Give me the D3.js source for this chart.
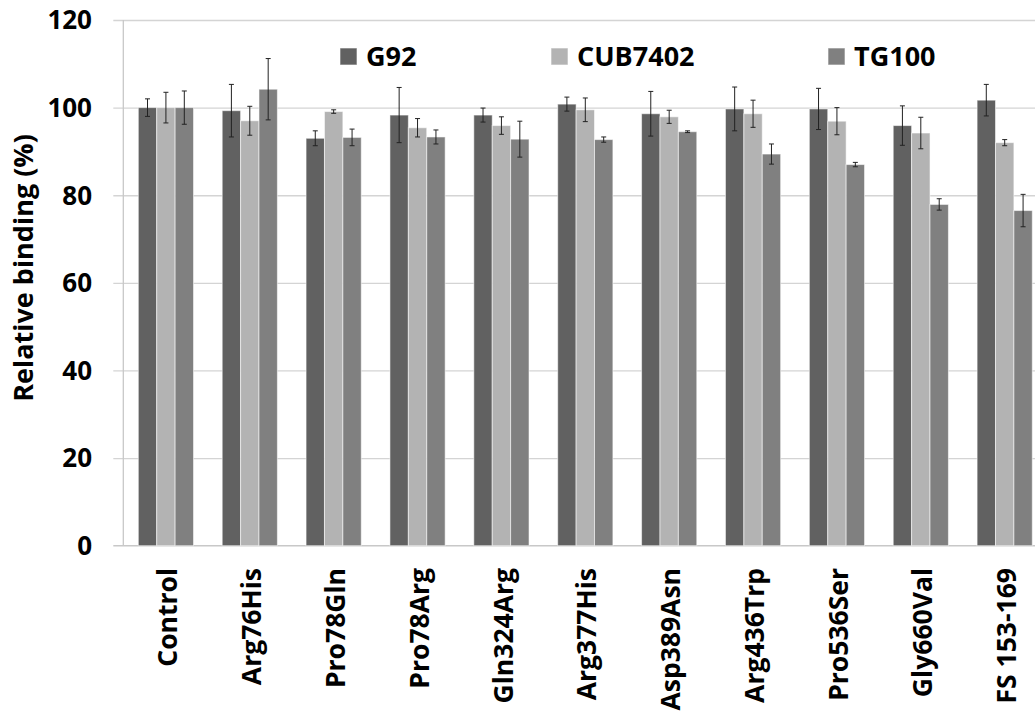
<!DOCTYPE html>
<html>
<head>
<meta charset="utf-8">
<script src="https://cdn.jsdelivr.net/npm/d3@7"></script>
<style>
  html, body { margin: 0; padding: 0; background: #fff; }
  svg { display: block; font-family: "Open Sans", "DejaVu Sans", sans-serif; font-weight: 700; }
</style>
</head>
<body>
<svg id="chart" width="1035" height="718"></svg>
<script>
// ---- data ----
const categories = ["Control", "Arg76His", "Pro78Gln", "Pro78Arg", "Gln324Arg", "Arg377His",
                    "Asp389Asn", "Arg436Trp", "Pro536Ser", "Gly660Val", "FS 153-169"];
const seriesNames = ["G92", "CUB7402", "TG100"];
const g92Values    = [100, 99.3, 93.0, 98.3, 98.3, 100.8, 98.6, 99.7, 99.7, 95.9, 101.7];
const g92Errors    = [2.0, 6.0, 1.7, 6.3, 1.6, 1.6, 5.1, 5.0, 4.7, 4.5, 3.6];
const cub7402Values = [100, 97.0, 99.1, 95.4, 95.9, 99.5, 97.9, 98.6, 96.9, 94.2, 92.0];
const cub7402Errors = [3.5, 3.3, 0.4, 2.1, 2.0, 2.7, 1.5, 3.1, 3.1, 3.6, 0.7];
const tg100Values  = [100, 104.2, 93.2, 93.3, 92.8, 92.7, 94.5, 89.4, 87.0, 77.9, 76.5];
const tg100Errors  = [3.8, 7.0, 1.9, 1.6, 4.1, 0.6, 0.2, 2.3, 0.5, 1.3, 3.7];
const yTicks = [0, 20, 40, 60, 80, 100, 120];
const yTitle = "Relative binding (%)";

const seriesValues = [g92Values, cub7402Values, tg100Values];
const seriesErrors = [g92Errors, cub7402Errors, tg100Errors];
const colors = ["#616161", "#b3b3b3", "#808080"];

// ---- layout ----
const svg = d3.select("#chart");
const W = 1035, H = 718;
const axisX = 123.3, yTop = 20, yBottom = 545.7;
const step = 84;

const y = d3.scaleLinear().domain([0, 120]).range([yBottom, yTop]);
const x0 = d3.scaleBand().domain(categories)
  .range([axisX, axisX + step * categories.length])
  .paddingInner(0.342).paddingOuter(0.179);
const x1 = d3.scaleBand().domain(seriesNames).range([0, x0.bandwidth()]).padding(0);

// gridlines
svg.append("g").selectAll("line").data(yTicks.filter(d => d > 0)).join("line")
  .attr("x1", axisX - 10).attr("x2", W)
  .attr("y1", d => y(d) + 0.5).attr("y2", d => y(d) + 0.5)
  .attr("stroke", "#d4d4d4").attr("stroke-width", 1.3);

// y axis line and baseline
svg.append("line").attr("x1", axisX).attr("x2", axisX).attr("y1", yTop).attr("y2", yBottom)
  .attr("stroke", "#c8c8c8").attr("stroke-width", 1.3);
svg.append("line").attr("x1", axisX - 10).attr("x2", W).attr("y1", yBottom).attr("y2", yBottom)
  .attr("stroke", "#c8c8c8").attr("stroke-width", 1.5);

// tick labels
svg.append("g").selectAll("text").data(yTicks).join("text")
  .attr("x", 92).attr("y", d => y(d))
  .attr("dy", "0.36em")
  .attr("text-anchor", "end")
  .attr("font-size", 26)
  .attr("fill", "#000")
  .text(d => d);

// bars
const groups = svg.append("g").selectAll("g").data(categories).join("g")
  .attr("transform", d => `translate(${x0(d)},0)`);

groups.each(function(cat, ci) {
  const g = d3.select(this);
  seriesNames.forEach((s, si) => {
    const v = seriesValues[si][ci];
    const e = seriesErrors[si][ci];
    g.append("rect")
      .attr("x", x1(s)).attr("width", x1.bandwidth())
      .attr("y", y(v)).attr("height", y(0) - y(v))
      .attr("fill", colors[si])
      .attr("stroke", "rgba(255,255,255,0.55)").attr("stroke-width", 1);
    const cx = x1(s) + x1.bandwidth() / 2;
    g.append("line").attr("x1", cx).attr("x2", cx)
      .attr("y1", y(v + e)).attr("y2", y(v - e))
      .attr("stroke", "#222").attr("stroke-width", 1);
    [v + e, v - e].forEach(t => {
      g.append("line").attr("x1", cx - 2.5).attr("x2", cx + 2.5)
        .attr("y1", y(t)).attr("y2", y(t))
        .attr("stroke", "#222").attr("stroke-width", 1);
    });
  });
});

// x labels
svg.append("g").selectAll("text").data(categories).join("text")
  .attr("transform", d => `translate(${x0(d) + x0.bandwidth() / 2},568) rotate(-90)`)
  .attr("text-anchor", "end")
  .attr("dy", "0.42em")
  .attr("font-size", 26.5)
  .attr("fill", "#000")
  .text(d => d);

// y title
svg.append("text")
  .attr("transform", "translate(33,268) rotate(-90)")
  .attr("text-anchor", "middle")
  .attr("font-size", 27)
  .attr("fill", "#000")
  .text(yTitle);

// legend
const legendX = [340, 551, 828];
const legend = svg.append("g").selectAll("g").data(seriesNames).join("g")
  .attr("transform", (d, i) => `translate(${legendX[i]},48)`);
legend.append("rect").attr("width", 17).attr("height", 17)
  .attr("fill", (d, i) => colors[i])
  .attr("stroke", "rgba(255,255,255,0.6)");
legend.append("text").attr("x", 26).attr("y", 17.5)
  .attr("font-size", 27).attr("fill", "#000")
  .text(d => d);
</script>
</body>
</html>
